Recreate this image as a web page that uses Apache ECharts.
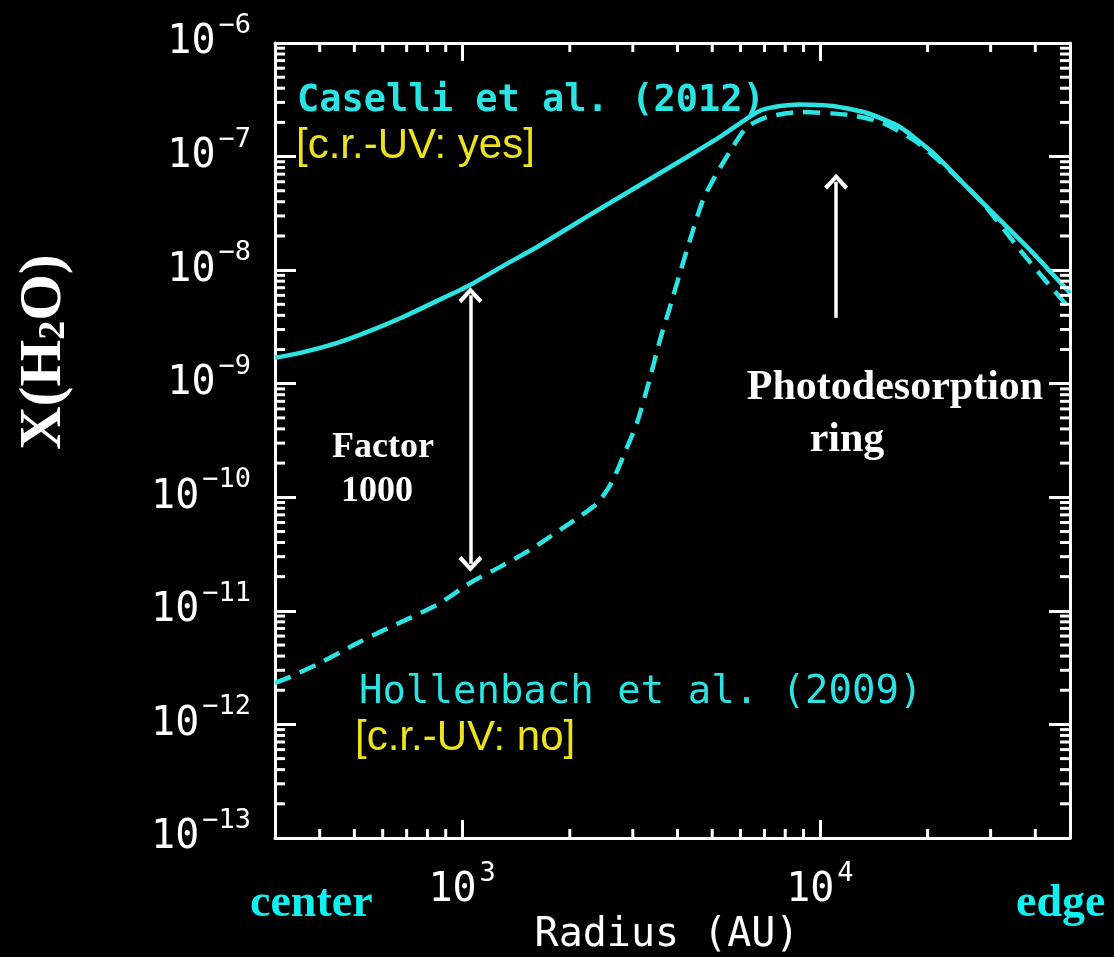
<!DOCTYPE html>
<html>
<head>
<meta charset="utf-8">
<script src="https://cdn.jsdelivr.net/npm/echarts@6/dist/echarts.min.js"></script>
<style>
  html, body { margin: 0; padding: 0; background: #000; }
  #chart { width: 1114px; height: 957px; }
</style>
</head>
<body>
<div id="chart"></div>
<script>
// ---------------- data ----------------
const radiusCaselli = [300, 353, 448, 553, 684, 851, 1053, 1302, 1620, 2003, 2477, 3245, 4251, 5256, 6296, 6887, 7732, 8795, 10873, 13530, 16730, 20690, 25740, 31830, 39360, 50000];
const xH2OCaselli   = [1.69e-9, 1.87e-9, 2.29e-9, 2.92e-9, 3.87e-9, 5.36e-9, 7.41e-9, 1.09e-8, 1.60e-8, 2.40e-8, 3.60e-8, 5.97e-8, 9.91e-8, 1.49e-7, 2.19e-7, 2.57e-7, 2.79e-7, 2.88e-7, 2.79e-7, 2.42e-7, 1.82e-7, 1.08e-7, 5.40e-8, 2.77e-8, 1.42e-8, 6.30e-9];

const radiusHollenbach = [300, 331, 401, 487, 590, 716, 868, 1053, 1277, 1549, 1878, 2150, 2400, 2620, 2817, 3082, 3350, 3574, 3811, 4064, 4335, 4713, 5156, 5715, 6254, 7112, 8795, 12130, 14980, 18580, 23000, 28790, 36200, 42570, 50000];
const xH2OHollenbach   = [2.32e-12, 2.62e-12, 3.48e-12, 4.82e-12, 6.53e-12, 8.67e-12, 1.17e-11, 1.76e-11, 2.44e-11, 3.44e-11, 5.16e-11, 6.9e-11, 9.0e-11, 1.35e-10, 2.27e-10, 4.52e-10, 1.12e-9, 2.43e-9, 4.74e-9, 9.44e-9, 1.85e-8, 4.15e-8, 7.18e-8, 1.22e-7, 1.82e-7, 2.23e-7, 2.47e-7, 2.32e-7, 1.98e-7, 1.35e-7, 7.62e-8, 3.75e-8, 1.51e-8, 8.2e-9, 4.55e-9];

// axis ranges and tick values
const xRange = [300, 50000];
const yRange = [1e-13, 1e-6];
const xMinorTicks = [400, 500, 600, 700, 800, 900, 2000, 3000, 4000, 5000, 6000, 7000, 8000, 9000, 20000, 30000, 40000];
const yDecadeExponents = [-13, -12, -11, -10, -9, -8, -7];
const minorMultipliers = [2, 3, 4, 5, 6, 7, 8, 9];

// annotation arrows (data coordinates)
const factorArrow = [[1055, 6.0e-9], [1055, 2.6e-11]];
const ringArrow = [[11100, 3.8e-9], [11100, 6.0e-8]];

// ---------------- build ----------------
const yMinorTicks = [];
yDecadeExponents.forEach(e => minorMultipliers.forEach(m => yMinorTicks.push(m * Math.pow(10, e))));

const zip = (a, b) => a.map((v, i) => [v, b[i]]);

const CYAN = '#2be3e3';
const YELLOW = '#ece21e';
const HERSHEY = '"DejaVu Sans Mono", monospace';

function expOf(v) {
  const l = Math.log10(v);
  const e = Math.round(l);
  return Math.abs(l - e) < 1e-6 ? e : null;
}

const richLabel = {
  b: { fontSize: 40, fontFamily: HERSHEY, color: '#fff' },
  s: { fontSize: 27, fontFamily: HERSHEY, color: '#fff', padding: [0, 0, 34, 3] }
};

const chevron = 'path://M0,0 L10,9 L7.6,11.4 L0,4.2 L-7.6,11.4 L-10,9 Z';

const commonAxis = {
  axisLine: { show: true, onZero: false, lineStyle: { color: '#fff', width: 3 } },
  splitLine: { show: false },
  minorTick: { show: false },
};

function minorTickRenderer(isX) {
  return function (params, api) {
    const v = api.value(isX ? 0 : 1);
    let a, b, children;
    const style = { stroke: '#fff', lineWidth: 3 };
    if (isX) {
      a = api.coord([v, yRange[0]]);
      b = api.coord([v, yRange[1]]);
      children = [
        { type: 'line', shape: { x1: a[0], y1: a[1], x2: a[0], y2: a[1] - 9 }, style },
        { type: 'line', shape: { x1: b[0], y1: b[1], x2: b[0], y2: b[1] + 9 }, style }
      ];
    } else {
      a = api.coord([xRange[0], v]);
      b = api.coord([xRange[1], v]);
      children = [
        { type: 'line', shape: { x1: a[0], y1: a[1], x2: a[0] + 10, y2: a[1] }, style },
        { type: 'line', shape: { x1: b[0], y1: b[1], x2: b[0] - 10, y2: b[1] }, style }
      ];
    }
    return { type: 'group', children };
  };
}

const chart = echarts.init(document.getElementById('chart'));
chart.setOption({
  backgroundColor: '#000',
  animation: false,
  grid: { left: 275, right: 44, top: 43, bottom: 119, containLabel: false },
  xAxis: [
    Object.assign({}, commonAxis, {
      type: 'log', logBase: 10, min: xRange[0], max: xRange[1], position: 'bottom',
      axisTick: { show: true, inside: true, length: 18, lineStyle: { color: '#fff', width: 3 } },
      axisLabel: {
        show: true, margin: 22, color: '#fff', showMinLabel: true, showMaxLabel: true,
        formatter: v => { const e = expOf(v); return e === null ? '' : '{b|10}{s|' + e + '}'; },
        rich: richLabel
      }
    }),
    Object.assign({}, commonAxis, {
      type: 'log', logBase: 10, min: xRange[0], max: xRange[1], position: 'top',
      axisTick: { show: true, inside: true, length: 18, lineStyle: { color: '#fff', width: 3 } },
      axisLabel: { show: false }
    })
  ],
  yAxis: [
    Object.assign({}, commonAxis, {
      type: 'log', logBase: 10, min: yRange[0], max: yRange[1], position: 'left',
      axisTick: { show: true, inside: true, length: 21, lineStyle: { color: '#fff', width: 3 } },
      axisLabel: {
        show: true, margin: 24, color: '#fff',
        formatter: v => { const e = expOf(v); return e === null ? '' : '{b|10}{s|\u2212' + Math.abs(e) + '}'; },
        rich: richLabel
      }
    }),
    Object.assign({}, commonAxis, {
      type: 'log', logBase: 10, min: yRange[0], max: yRange[1], position: 'right',
      axisTick: { show: true, inside: true, length: 21, lineStyle: { color: '#fff', width: 3 } },
      axisLabel: { show: false }
    })
  ],
  series: [
    {
      name: 'Caselli et al. (2012)', type: 'line', xAxisIndex: 0, yAxisIndex: 0,
      data: zip(radiusCaselli, xH2OCaselli), showSymbol: false, smooth: 0.2,
      lineStyle: { color: CYAN, width: 4.5, type: 'solid' }, z: 3,
      markLine: {
        silent: true, animation: false,
        symbol: [chevron, chevron], symbolSize: [24, 16],
        lineStyle: { color: '#fff', width: 3.5, type: 'solid' },
        label: { show: false },
        emphasis: { disabled: true },
        data: [
          [{ coord: factorArrow[0] }, { coord: factorArrow[1] }],
          [{ coord: ringArrow[0], symbol: 'none' }, { coord: ringArrow[1] }]
        ]
      }
    },
    {
      name: 'Hollenbach et al. (2009)', type: 'line', xAxisIndex: 0, yAxisIndex: 0,
      data: zip(radiusHollenbach, xH2OHollenbach), showSymbol: false, smooth: 0.2,
      lineStyle: { color: CYAN, width: 4.5, type: [17, 10] }, z: 3
    },
    {
      type: 'custom', xAxisIndex: 0, yAxisIndex: 0, clip: false, silent: true,
      renderItem: minorTickRenderer(true),
      data: xMinorTicks.map(v => [v, yRange[0]]), z: 5
    },
    {
      type: 'custom', xAxisIndex: 0, yAxisIndex: 0, clip: false, silent: true,
      renderItem: minorTickRenderer(false),
      data: yMinorTicks.map(v => [xRange[0], v]), z: 5
    }
  ],
  graphic: [
    { type: 'text', x: 297, y: 101, silent: true,
      style: { text: 'Caselli et al. (2012)', fill: CYAN, font: 'bold 37px "DejaVu Sans Mono"', align: 'left', verticalAlign: 'middle', textAlign: 'left', textVerticalAlign: 'middle' } },
    { type: 'text', x: 296, y: 146, silent: true,
      style: { text: '[c.r.-UV: yes]', fill: YELLOW, font: '42px "Liberation Sans"', align: 'left', verticalAlign: 'middle', textAlign: 'left', textVerticalAlign: 'middle' } },
    { type: 'text', x: 359, y: 693, silent: true,
      style: { text: 'Hollenbach et al. (2009)', fill: CYAN, font: '39px "DejaVu Sans Mono"', align: 'left', verticalAlign: 'middle', textAlign: 'left', textVerticalAlign: 'middle' } },
    { type: 'text', x: 355, y: 738, silent: true,
      style: { text: '[c.r.-UV: no]', fill: YELLOW, font: '42px "Liberation Sans"', align: 'left', verticalAlign: 'middle', textAlign: 'left', textVerticalAlign: 'middle' } },
    { type: 'text', x: 383, y: 448, silent: true,
      style: { text: 'Factor', fill: '#fff', font: 'bold 36px "Liberation Serif"', align: 'center', verticalAlign: 'middle', textAlign: 'center', textVerticalAlign: 'middle' } },
    { type: 'text', x: 377, y: 492, silent: true,
      style: { text: '1000', fill: '#fff', font: 'bold 36px "Liberation Serif"', align: 'center', verticalAlign: 'middle', textAlign: 'center', textVerticalAlign: 'middle' } },
    { type: 'text', x: 895, y: 388, silent: true,
      style: { text: 'Photodesorption', fill: '#fff', font: 'bold 42px "Liberation Serif"', align: 'center', verticalAlign: 'middle', textAlign: 'center', textVerticalAlign: 'middle' } },
    { type: 'text', x: 847, y: 440, silent: true,
      style: { text: 'ring', fill: '#fff', font: 'bold 42px "Liberation Serif"', align: 'center', verticalAlign: 'middle', textAlign: 'center', textVerticalAlign: 'middle' } },
    { type: 'text', x: 250, y: 904, silent: true,
      style: { text: 'center', fill: '#10f0f0', font: 'bold 46px "Liberation Serif"', align: 'left', verticalAlign: 'middle', textAlign: 'left', textVerticalAlign: 'middle' } },
    { type: 'text', x: 1016, y: 904, silent: true,
      style: { text: 'edge', fill: '#10f0f0', font: 'bold 46px "Liberation Serif"', align: 'left', verticalAlign: 'middle', textAlign: 'left', textVerticalAlign: 'middle' } },
    { type: 'text', x: 667, y: 936, silent: true,
      style: { text: 'Radius (AU)', fill: '#fff', font: '40px "DejaVu Sans Mono"', align: 'center', verticalAlign: 'middle', textAlign: 'center', textVerticalAlign: 'middle' } },
    { type: 'text', x: 44, y: 352, rotation: Math.PI / 2, silent: true,
      style: {
        text: '{a|X(H}{b|2}{a|O)}', fill: '#fff', align: 'center', verticalAlign: 'middle', textAlign: 'center', textVerticalAlign: 'middle',
        rich: {
          a: { fontSize: 60, fontWeight: 'bold', fontFamily: '"Liberation Serif"', fill: '#fff', color: '#fff' },
          b: { fontSize: 38, fontWeight: 'bold', fontFamily: '"Liberation Serif"', fill: '#fff', color: '#fff', padding: [20, 0, 0, 0] }
        }
      } }
  ]
});
</script>
</body>
</html>
